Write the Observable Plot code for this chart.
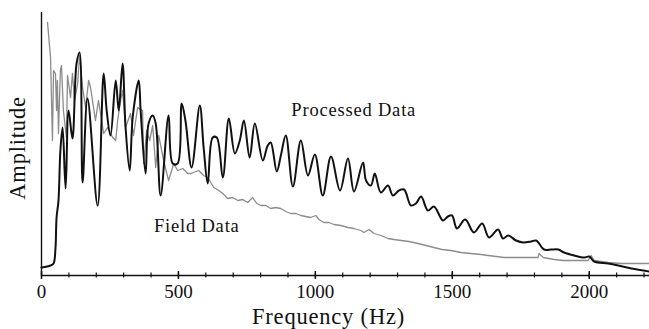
<!DOCTYPE html>
<html>
<head>
<meta charset="utf-8">
<script src="https://cdn.jsdelivr.net/npm/d3@7"></script>
<script src="https://cdn.jsdelivr.net/npm/@observablehq/plot@0.6"></script>
<style>
  html, body { margin: 0; padding: 0; background: #fff; }
  #chart svg { display: block; }
</style>
</head>
<body>
<div id="chart"></div>
<script>
// Processed Data (black, oscillating)
const procFreq = [0,33,44,51,55,62,69,77,88,99,113,128,139,150,168,205,227,238,252,271,282,296,307,322,333,355,362,380,391,406,417,435,464,479,497,512,526,548,578,592,607,625,640,662,684,706,724,739,760,779,808,826,837,859,874,892,918,947,973,998,1027,1057,1090,1119,1141,1174,1185,1203,1217,1239,1265,1283,1305,1324,1349,1367,1386,1411,1433,1466,1484,1499,1517,1547,1579,1609,1634,1667,1685,1704,1733,1759,1788,1806,1835,1861,1887,1908,1945,1982,2000,2018,2069,2106,2154,2219];
const procAmp = [8,10,12,27,58,75,125,148,87,165,137,212,223,93,177,70,202,165,140,195,165,212,148,105,158,195,165,102,152,160,152,80,160,112,112,172,154,108,170,128,92,138,138,98,157,122,135,155,118,152,115,130,133,104,120,140,89,135,100,121,80,119,85,117,84,113,95,90,102,83,90,80,85,86,70,72,79,65,69,55,59,60,47,56,43,52,38,46,37,40,35,33,34,35,26,26,26,23,20,18,19,14,12,10,7,4];

// Field Data (gray)
const fieldFreq = [22,33,40,44,51,55,58,62,69,73,80,88,91,95,106,113,121,132,139,150,161,172,179,197,208,227,241,260,271,278,289,296,307,325,336,351,369,373,384,395,406,417,428,446,464,483,497,516,534,545,574,592,607,629,647,662,680,698,717,735,753,771,786,801,819,837,855,874,892,910,929,947,965,983,1002,1013,1031,1049,1068,1093,1119,1141,1166,1177,1196,1214,1239,1265,1287,1313,1342,1375,1404,1433,1462,1495,1532,1568,1605,1631,1660,1689,1722,1751,1784,1813,1817,1832,1872,1905,1934,1971,1996,2007,2018,2044,2069,2117,2179,2219];
const fieldAmp = [253,218,135,205,202,165,195,142,205,210,165,145,138,200,178,202,175,192,220,188,168,195,188,155,175,142,148,138,135,155,175,185,148,162,140,168,165,112,145,135,150,108,140,115,95,112,105,107,102,102,105,100,98,88,85,82,77,78,75,76,73,78,72,70,70,67,68,67,64,62,62,60,59,58,60,56,53,53,51,50,48,47,45,43,46,42,40,37,36,35,34,32,30,28,26,25,23,22,21,20,19,18,18,18,18,18,22,18,16,15,15,15,15,20,15,14,13,12,12,12];

const majorTicks = [0, 500, 1000, 1500, 2000];
const minorTicks = d3.range(0, 2201, 100);
const seriesLabels = [
  {text: "Processed Data", freq: 1140, amp: 165},
  {text: "Field Data", freq: 567, amp: 49}
];
const xLabel = "Frequency (Hz)";
const yLabel = "Amplitude";

const proc = procFreq.map((f, i) => ({f, a: procAmp[i]}));
const field = fieldFreq.map((f, i) => ({f, a: fieldAmp[i]}));

const font = "Liberation Serif, Times New Roman, serif";

const chart = Plot.plot({
  width: 649,
  height: 329,
  marginLeft: 41,
  marginRight: 0,
  marginTop: 12,
  marginBottom: 54,
  style: {fontFamily: font, background: "#fff", color: "#111"},
  x: {domain: [0, 2220]},
  y: {domain: [0, 263], axis: null},
  marks: [
    Plot.ruleX(minorTicks, {x: d => d, y1: -2.5, y2: 2.5, stroke: "#111", strokeWidth: 1.2}),
    Plot.ruleX(majorTicks, {x: d => d, y1: -4, y2: 4, stroke: "#111", strokeWidth: 1.5}),
    Plot.axisX({ticks: majorTicks, tickSize: 0, tickPadding: 9, fontSize: 19, tickFormat: d => String(d), label: null, fill: "#111"}),
    Plot.ruleY([0], {stroke: "#111", strokeWidth: 1.6}),
    Plot.ruleX([0], {stroke: "#111", strokeWidth: 1.4}),
    Plot.line(field, {x: "f", y: "a", stroke: "#8c8c8c", strokeWidth: 1.3}),
    Plot.line(proc, {x: "f", y: "a", stroke: "#111", strokeWidth: 2, curve: "catmull-rom"}),
    Plot.text(seriesLabels, {x: "freq", y: "amp", text: "text", fontSize: 18.5, fill: "#111"}),
    Plot.text([xLabel], {frameAnchor: "bottom", lineAnchor: "middle", textAnchor: "middle", dx: -17, dy: 41, fontSize: 22.5, fill: "#111"}),
    Plot.text([yLabel], {frameAnchor: "left", lineAnchor: "middle", textAnchor: "middle", dx: -24, dy: 4, rotate: -90, fontSize: 22.5, fill: "#111"})
  ]
});
chart.querySelectorAll("text").forEach(t => {
  const s = t.textContent;
  if (s === xLabel || s === yLabel || seriesLabels.some(l => l.text === s)) t.setAttribute("letter-spacing", "0.8");
});
document.getElementById("chart").appendChild(chart);
</script>
</body>
</html>
